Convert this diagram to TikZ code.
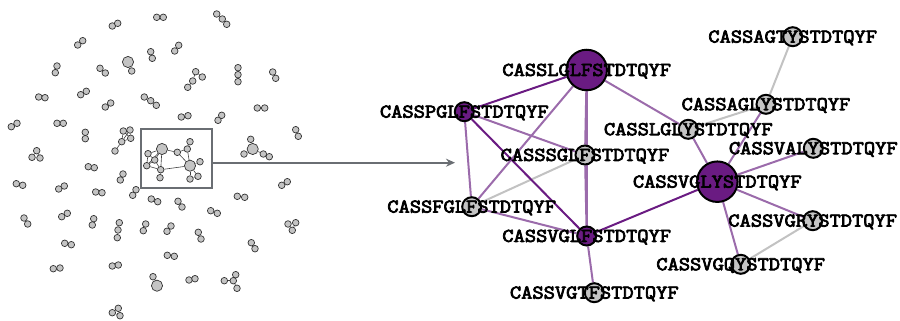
\documentclass[tikz,border=0pt]{standalone}
\usepackage{fontspec}
\newfontfamily\lblfont{Latin Modern Mono}[FakeBold=3.8, FakeStretch=1.12]
\usetikzlibrary{calc,arrows.meta}
\definecolor{pur}{HTML}{6A1B82}
\definecolor{lpur}{HTML}{9B6BAB}
\definecolor{gedge}{HTML}{C2C2C2}
\definecolor{nodegray}{HTML}{C4C4C4}
\definecolor{boxgray}{HTML}{6A6E73}
\pgfdeclarelayer{bg}
\pgfsetlayers{bg,main}
\begin{document}
\begin{tikzpicture}[x=1pt,y=-1pt,
  sdot/.style={circle, draw=black!80, fill=nodegray, line width=0.7pt, minimum size=6.6pt, inner sep=0pt},
  bdot/.style={sdot, minimum size=11.2pt},
  sl/.style={draw=black!75, line width=0.6pt},
  gnode/.style={circle, draw=black, line width=2pt, fill=nodegray, minimum size=19pt, inner sep=0pt},
  pnode/.style={gnode, fill=pur},
  bignode/.style={gnode, fill=pur, minimum size=40.5pt},
  lbl/.style={font=\lblfont\fontsize{19.5}{19.5}\selectfont, inner sep=0pt, anchor=base},
  dedge/.style={draw=pur, line width=2pt},
  ledge/.style={draw=lpur, line width=2pt},
  gredge/.style={draw=gedge, line width=2pt},
  boxst/.style={draw=boxgray, line width=2pt, inner sep=0pt},
  arr/.style={draw=boxgray, line width=1.6pt, -{Stealth[length=9pt,width=8pt]}}
]
\useasboundingbox (0,0) rectangle (900,321);

% ---------- left overview ----------
\foreach \n/\x/\y in {
 a1/156.7/17.3, a2/163.3/17.3,
 b1/216.7/14, b2/222.3/19, b3/226.7/24.3,
 c1/112.3/26, c2/117.7/23.3,
 d1/77.7/45, d2/82.7/40.7,
 e1/150.7/51.7, e2/152.3/58.3,
 f1/174.7/51, f2/178.7/45.3,
 g2/131.7/71,
 h1/57/66, h2/55.3/72.7,
 i1/100/68.3, i2/105.3/73,
 j1/195.7/71.7, j2/202.3/77, j3/192.7/81, j4/187.7/87.3,
 k1/238/67.7, k2/238/74.7, k3/238/81.7,
 m1/272.7/72, m2/275.7/78.3,
 n1/38.7/97, n2/45/97.7,
 o1/80.7/94.7, o2/86.3/91.3,
 q1/105.3/107, q2/110.7/103,
 r1/144.3/97, r2/150.7/100.7, r3/156.3/105.3,
 s1/257.3/108, s2/264.7/108,
 t1/181.3/117, t2/188/115.7,
 u1/218/120.3, u2/221.7/115.3,
 v1/11.3/126.7, v2/17/123.3,
 w1/57/123.3, w2/63.3/123.3,
 x1/85.3/132.3, x2/85.3/138.7,
 y1/123.3/131, y2/130/130, y3/130.7/138.3, y4/121.7/141.7, y5/115/151,
 z1/295.7/129.7, z2/298.3/136.3,
 aa1/36.7/150.7, aa2/32/157.3, aa3/40/158,
 bb1/250.7/139.3, bb3/244/154, bb4/263.3/154, bb5/269.3/156.7,
 cc1/88.3/166.7, cc2/94.3/167.7,
 dd1/123/174, dd2/120.3/180,
 ee1/16.3/183.7, ee2/22.7/185.3,
 ff1/58.7/189, ff2/64.3/186,
 gg1/95.7/192, gg2/102/192.7,
 hh1/132.7/195.3, hh2/136/189.7,
 ii1/281.7/185.3, ii2/287.3/181.7,
 jj1/151.3/199, jj2/157.7/201.7,
 kk1/178/201.3, kk2/182/207,
 ll1/237.3/196.3, ll2/244.7/197.3,
 mm1/210.7/210.7, mm2/217.3/213.3,
 nn1/24/218, nn2/27.7/224,
 oo1/61.7/216.7, oo2/67.3/213.3,
 pp1/93.7/218.7, pp2/92.3/225,
 qq1/119.3/222.7, qq2/118/230, qq3/117.3/237.7,
 rr1/145.7/224, rr2/143.3/230.7,
 ss1/171/226, ss2/167/231.3,
 tt1/198.3/232.3, tt2/201/239,
 uu1/288/224, uu2/295.7/222.7, uu3/292.3/230.3,
 vv1/64.7/243.3, vv2/71.3/244.7,
 ww1/251.3/242.7, ww2/255/248.7,
 xx1/167.3/255.3, xx2/174.3/256.3,
 yy1/53.3/268.7, yy2/60/268,
 zz1/112.3/266, zz2/118.3/265,
 ab1/189/280, ab2/195/278.7,
 ac1/153/276.7,
 ad1/224.3/280.7, ad2/233.3/280.7, ad3/235.7/274.7, ad4/237/288.3,
 ae1/112.3/312.7, ae2/118.3/308.3, ae3/120/315.7,
 p1/148/153.7, p2/154.7/160, p3/146.7/165.7, p4/160.7/169.7, p5/160/177.7,
 p6/177.3/152.3, p7/187.3/149, p8/190/141.7, p9/200/161.7, p10/190/179, p11/198/176.3}
 {\node[sdot] (\n) at (\x,\y) {};}
\foreach \n/\x/\y in {g1/128/62, bb2/252.7/149, ac2/157/285.7, bA/162/149, bB/190/165.7}
 {\node[bdot] (\n) at (\x,\y) {};}

\begin{pgfonlayer}{bg}
\foreach \a/\b in {a1/a2, b1/b2, b2/b3, c1/c2, d1/d2, e1/e2, f1/f2, g1/g2, h1/h2, i1/i2,
 j1/j2, j1/j3, j3/j4, k1/k2, k2/k3, m1/m2, n1/n2, o1/o2, q1/q2, r1/r2, r2/r3, s1/s2,
 t1/t2, u1/u2, v1/v2, w1/w2, x1/x2, y1/y2, y2/y3, y1/y3, y2/y4, y1/y4, y3/y4, y4/y5,
 z1/z2, aa1/aa2, aa1/aa3, aa2/aa3, bb2/bb1, bb2/bb3, bb2/bb4, bb4/bb5, cc1/cc2, dd1/dd2,
 ee1/ee2, ff1/ff2, gg1/gg2, hh1/hh2, ii1/ii2, jj1/jj2, kk1/kk2, ll1/ll2, mm1/mm2,
 nn1/nn2, oo1/oo2, pp1/pp2, qq1/qq2, qq2/qq3, rr1/rr2, ss1/ss2, tt1/tt2, uu1/uu2,
 uu1/uu3, uu2/uu3, vv1/vv2, ww1/ww2, xx1/xx2, yy1/yy2, zz1/zz2, ab1/ab2, ac1/ac2,
 ad1/ad2, ad2/ad3, ad2/ad4, ae1/ae2, ae2/ae3, ae1/ae3,
 bA/p1, bA/p2, bA/p3, bA/p4, bA/p6, p1/p2, p1/p3, p2/p3, p2/p4, p3/p4, p4/p5, p4/bB,
 p6/bB, p6/p7, p7/bB, p7/p8, bB/p9, bB/p10, bB/p11, p10/p11}
 {\draw[sl] (\a) -- (\b);}
\end{pgfonlayer}

% zoom box and arrow
\node[boxst, minimum width=71.6pt, minimum height=59pt] (zbox) at (176.5,158.8) {};
\coordinate (arrend) at (455,162.7);
\draw[arr] (zbox.east |- arrend) -- (arrend);

% ---------- right network ----------
\node[bignode] (LGLF) at (586.7,70) {};
\node[pnode] (PGLF) at (464.3,111.7) {};
\node[gnode] (SGLF) at (585,155) {};
\node[gnode] (FGLF) at (471.7,206.7) {};
\node[pnode] (VGLF) at (586.7,236) {};
\node[gnode] (VGTF) at (594.3,292.7) {};
\node[gnode] (AGTY) at (792.7,36.7) {};
\node[gnode] (AGLY) at (766,104.3) {};
\node[gnode] (LGLY) at (688.3,129.3) {};
\node[gnode] (VALY) at (813.3,148.3) {};
\node[bignode] (VGLY) at (717.3,181.7) {};
\node[gnode] (VGRY) at (812.7,220.7) {};
\node[gnode] (VGQY) at (740.7,264.3) {};

\begin{pgfonlayer}{bg}
\draw[gredge] (FGLF) -- (SGLF);
\draw[gredge] (LGLY) -- (AGLY);
\draw[gredge] (AGLY) -- (AGTY);
\draw[gredge] (VGRY) -- (VGQY);
\draw[ledge] (LGLF) -- (FGLF);
\draw[ledge] (LGLF) -- (SGLF);
\draw[ledge] (LGLF) -- (VGLF);
\draw[ledge] (SGLF) -- (VGLF);
\draw[ledge] (LGLF) -- (LGLY);
\draw[ledge] (PGLF) -- (SGLF);
\draw[ledge] (PGLF) -- (FGLF);
\draw[ledge] (FGLF) -- (VGLF);
\draw[ledge] (VGLF) -- (VGTF);
\draw[ledge] (VGLY) -- (LGLY);
\draw[ledge] (VGLY) -- (AGLY);
\draw[ledge] (VGLY) -- (VALY);
\draw[ledge] (VGLY) -- (VGRY);
\draw[ledge] (VGLY) -- (VGQY);
\draw[dedge] (LGLF) -- (PGLF);
\draw[dedge] (PGLF) -- (VGLF);
\draw[dedge] (VGLF) -- (VGLY);
\end{pgfonlayer}

\foreach \n/\t in {LGLF/CASSLGLFSTDTQYF, PGLF/CASSPGLFSTDTQYF, SGLF/CASSSGLFSTDTQYF,
 FGLF/CASSFGLFSTDTQYF, VGLF/CASSVGLFSTDTQYF, VGTF/CASSVGTFSTDTQYF,
 AGTY/CASSAGTYSTDTQYF, AGLY/CASSAGLYSTDTQYF, LGLY/CASSLGLYSTDTQYF,
 VALY/CASSVALYSTDTQYF, VGLY/CASSVGLYSTDTQYF, VGRY/CASSVGRYSTDTQYF,
 VGQY/CASSVGQYSTDTQYF}
 {\node[lbl] (\n t) at ($(\n)+(0,5.9)$) {\t};}
\end{tikzpicture}
\end{document}
